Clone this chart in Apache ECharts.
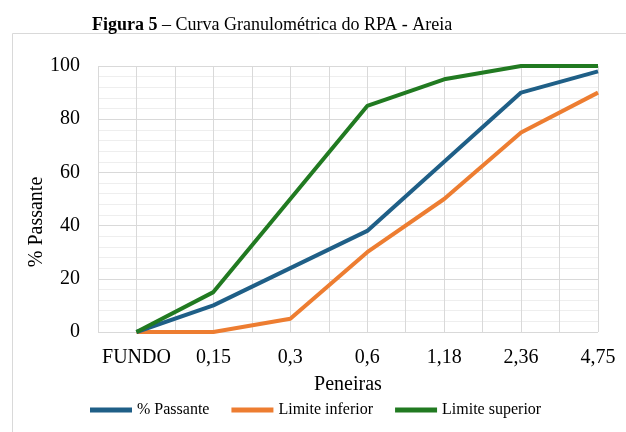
<!DOCTYPE html>
<html>
<head>
<meta charset="utf-8">
<script src="https://cdn.jsdelivr.net/npm/echarts@6/dist/echarts.min.js"></script>
<style>html,body{margin:0;padding:0;background:#fff}#c{width:626px;height:432px}</style>
</head>
<body>
<div id="c"></div>
<script>
var categories = ['FUNDO', '0,15', '0,3', '0,6', '1,18', '2,36', '4,75'];
var passante = [0, 10, 24, 38, 64, 90, 98];
var limiteInferior = [0, 0, 5, 30, 50, 75, 90];
var limiteSuperior = [0, 15, 50, 85, 95, 100, 100];
var yTicks = [0, 20, 40, 60, 80, 100];

function pairs(arr) { return arr.map(function (v, i) { return [i, v]; }); }
var F = '"Liberation Serif", "Times New Roman", serif';
var chart = echarts.init(document.getElementById('c'), null, { renderer: 'canvas' });
chart.setOption({
  animation: false,
  backgroundColor: '#fff',
  textStyle: { fontFamily: F },
  graphic: [
    { type: 'rect', silent: true, shape: { x: 12.5, y: 33.5, width: 700, height: 500 },
      style: { fill: null, stroke: '#d9d9d9', lineWidth: 1 }, z: -1 },
    { type: 'text', left: 92, top: 16, style: {
      text: '{b|Figura 5} – Curva Granulométrica do RPA - Areia',
      font: '18px ' + F, fill: '#000',
      rich: { b: { fontWeight: 'bold', fontSize: 18, fontFamily: F } } } },
    { type: 'text', x: 37, y: 222, rotation: Math.PI / 2, style: {
      text: '% Passante', font: '20px ' + F, fill: '#000', align: 'center', verticalAlign: 'middle' } }
  ],
  grid: { left: 98, right: 28, top: 66, bottom: 100, containLabel: false },
  legend: {
    left: 85, top: 397, itemWidth: 42, itemHeight: 5, itemGap: 22, icon: 'rect',
    textStyle: { fontFamily: F, fontSize: 16, color: '#000' },
    data: ['% Passante', 'Limite inferior', 'Limite superior']
  },
  xAxis: {
    type: 'value', min: -0.5, max: categories.length - 1, interval: 0.5,
    name: 'Peneiras', nameLocation: 'middle', nameGap: 43,
    nameTextStyle: { fontFamily: F, fontSize: 20, color: '#000' },
    axisLine: { show: false }, axisTick: { show: false },
    axisLabel: { margin: 16, fontFamily: F, fontSize: 20, color: '#000', showMinLabel: true, showMaxLabel: true,
      formatter: function (v) { return Number.isInteger(v) ? categories[v] : ''; } },
    splitLine: { show: true, lineStyle: { color: '#d9d9d9', width: 1 } }
  },
  yAxis: {
    type: 'value', min: yTicks[0], max: yTicks[yTicks.length - 1], interval: 20,
    axisLine: { show: false }, axisTick: { show: false },
    axisLabel: { margin: 18, fontFamily: F, fontSize: 20, color: '#000' },
    splitLine: { show: true, lineStyle: { color: '#d9d9d9', width: 1 } },
    minorTick: { show: false, splitNumber: 5 },
    minorSplitLine: { show: true, lineStyle: { color: '#eeeeee', width: 1 } }
  },
  series: [
    { name: '% Passante', type: 'line', data: pairs(passante), symbol: 'none',
      itemStyle: { color: '#1f5f87' }, lineStyle: { color: '#1f5f87', width: 4 }, z: 4 },
    { name: 'Limite inferior', type: 'line', data: pairs(limiteInferior), symbol: 'none',
      itemStyle: { color: '#ed7d31' }, lineStyle: { color: '#ed7d31', width: 4 }, z: 3 },
    { name: 'Limite superior', type: 'line', data: pairs(limiteSuperior), symbol: 'none',
      itemStyle: { color: '#217a21' }, lineStyle: { color: '#217a21', width: 4 }, z: 5 }
  ]
});
</script>
</body>
</html>
